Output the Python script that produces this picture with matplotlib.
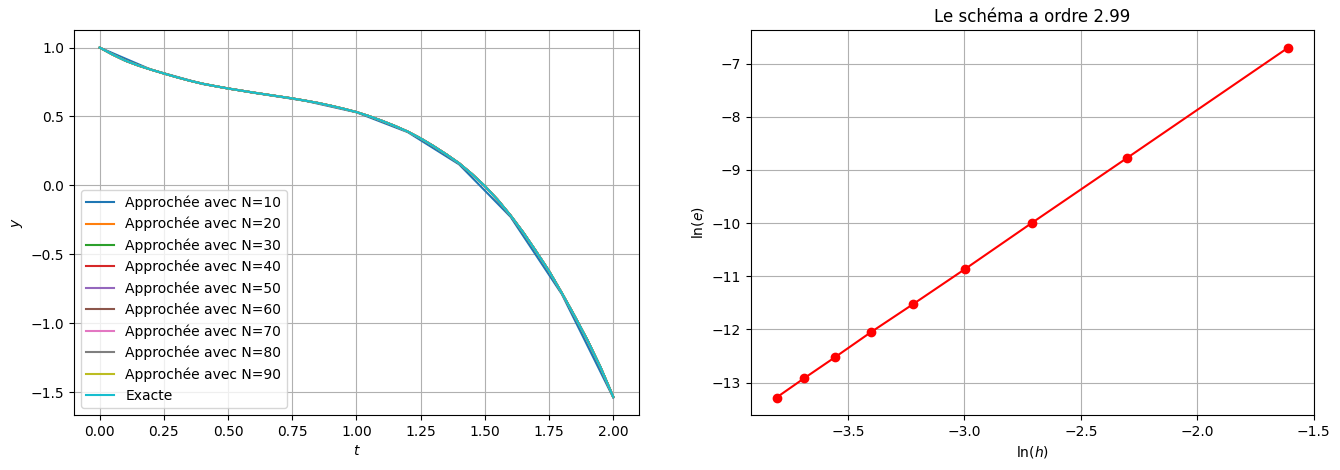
import numpy as np
import matplotlib
matplotlib.use("Agg")
import matplotlib.pyplot as plt

# valeurs
t_10 = [0.0, 0.2, 0.4, 0.6, 0.8, 1.0, 1.2, 1.4, 1.6, 1.8, 2.0]
y_10 = [1.000, 0.840, 0.736, 0.672, 0.614, 0.530, 0.386, 0.152, -0.228, -0.790, -1.540]

t_fin = [0.00, 0.05, 0.10, 0.15, 0.20, 0.25, 0.30, 0.35, 0.40, 0.45, 0.50,
         0.55, 0.60, 0.65, 0.70, 0.75, 0.80, 0.85, 0.90, 0.95, 1.00,
         1.05, 1.10, 1.15, 1.20, 1.25, 1.30, 1.35, 1.40, 1.45, 1.50,
         1.55, 1.60, 1.65, 1.70, 1.75, 1.80, 1.85, 1.90, 1.95, 2.00]
y_fin = [1.000, 0.950, 0.905, 0.870, 0.840, 0.812, 0.785, 0.760, 0.738, 0.720, 0.703,
         0.688, 0.673, 0.659, 0.645, 0.631, 0.615, 0.598, 0.578, 0.556, 0.532,
         0.502, 0.468, 0.431, 0.390, 0.341, 0.285, 0.225, 0.160, 0.082, -0.005,
         -0.105, -0.218, -0.343, -0.480, -0.622, -0.782, -0.950, -1.125, -1.318, -1.535]

N_list = [10, 20, 30, 40, 50, 60, 70, 80, 90]

ln_h = [-1.609, -2.303, -2.708, -2.996, -3.219, -3.401, -3.555, -3.689, -3.807]
ln_e = [-6.70, -8.78, -9.99, -10.86, -11.52, -12.05, -12.52, -12.92, -13.28]
ordre = 2.99

fig = plt.figure(figsize=(13.4, 4.7), dpi=100)

ax1 = fig.add_axes([0.0552, 0.117, 0.4216, 0.819])
for N in N_list:
    if N == 10:
        ax1.plot(t_10, y_10, label="Approchée avec N=%d" % N)
    else:
        ax1.plot(t_fin, y_fin, label="Approchée avec N=%d" % N)
ax1.plot(t_fin, y_fin, label="Exacte")
ax1.set_xlabel("$t$")
ax1.set_ylabel("$y$")
ax1.grid(True)
ax1.legend(loc="lower left")

ax2 = fig.add_axes([0.5604, 0.117, 0.4201, 0.819])
ax2.plot(ln_h, ln_e, "ro-")
ax2.set_xlabel("ln$(h)$")
ax2.set_ylabel("ln$(e)$")
ax2.set_title("Le schéma a ordre %.2f" % ordre)
ax2.grid(True)

fig.savefig("out.png", dpi=100)
